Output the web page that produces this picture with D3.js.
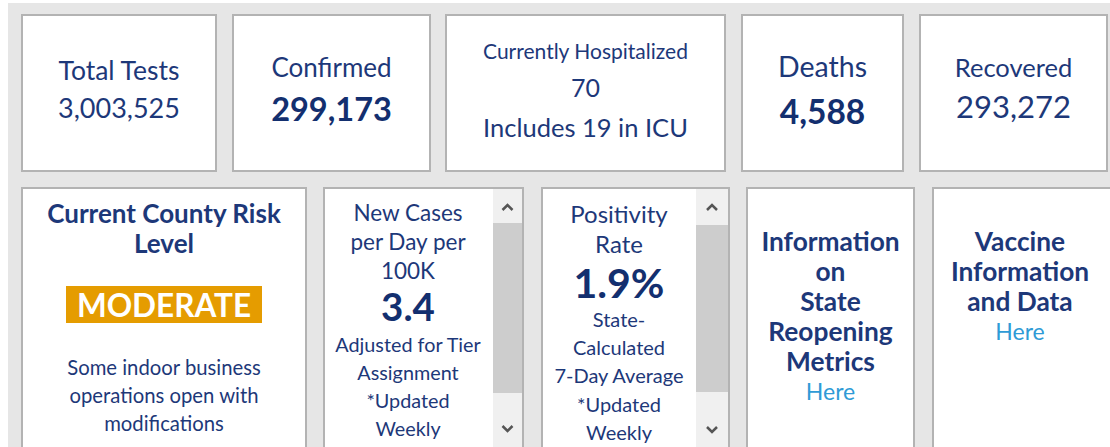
<!DOCTYPE html>
<html><head><meta charset="utf-8">
<script src="https://cdn.jsdelivr.net/npm/d3@7"></script>
<style>
html,body{margin:0;padding:0;background:#fff;}
svg{display:block;font-family:Lato,"Noto Sans",sans-serif;}
</style></head>
<body>
<svg id="c" width="1110" height="447"></svg>
<script>
// ---- data ----
const topTitles = ["Total Tests", "Confirmed", "Currently Hospitalized", "Deaths", "Recovered"];
const topValues = [3003525, 299173, 70, 4588, 293272];
const icuCount = 19;
const riskTitle = ["Current County Risk", "Level"];
const riskLevel = "MODERATE";
const riskNote = ["Some indoor business", "operations open with", "modifications"];
const newCasesTitle = ["New Cases", "per Day per", "100K"];
const newCasesValue = 3.4;
const newCasesNote = ["Adjusted for Tier", "Assignment", "*Updated", "Weekly"];
const positivityTitle = ["Positivity", "Rate"];
const positivityValue = 1.9;
const positivityNote = ["State-", "Calculated", "7-Day Average", "*Updated", "Weekly"];
const reopeningText = ["Information", "on", "State", "Reopening", "Metrics"];
const vaccineText = ["Vaccine", "Information", "and Data"];
const linkText = "Here";

// ---- layout ----
const navy = "#1d3879", navyDark = "#132f6f", linkBlue = "#2f9bd6";
const svg = d3.select("#c");
svg.append("rect").attr("x", 8).attr("y", 3).attr("width", 1102).attr("height", 444).attr("fill", "#e6e6e6");

const topCards = [[22, 216], [233, 430], [446, 725], [742, 903], [920, 1107]];
const botCards = [[22, 306], [324, 523], [542, 729], [747, 914], [933, 1120]];
const topY = [15, 171], botY = [188, 460];

function card(x0, x1, y0, y1) {
  svg.append("rect").attr("x", x0).attr("y", y0).attr("width", x1 - x0).attr("height", y1 - y0)
    .attr("fill", "#fff").attr("stroke", "#b3b3b3").attr("stroke-width", 2);
}
topCards.forEach(c => card(c[0], c[1], topY[0], topY[1]));
botCards.forEach(c => card(c[0], c[1], botY[0], botY[1]));

function txt(x, y, s, size, weight, color) {
  return svg.append("text").attr("x", x).attr("y", y).attr("text-anchor", "middle")
    .attr("dominant-baseline", "central").attr("font-size", size).attr("font-weight", weight || 400)
    .attr("fill", color || navy).text(s);
}
const fmt = d3.format(",");
const cx = c => (c[0] + c[1]) / 2;

// top row
txt(cx(topCards[0]), 70, topTitles[0], 26.5);
txt(cx(topCards[0]), 107, fmt(topValues[0]), 27);
txt(cx(topCards[1]), 67, topTitles[1], 26);
txt(cx(topCards[1]), 108, fmt(topValues[1]), 32.5, 700, navyDark);
txt(cx(topCards[2]), 50, topTitles[2], 21);
txt(cx(topCards[2]), 87, fmt(topValues[2]), 25);
txt(cx(topCards[2]), 127, `Includes ${icuCount} in ICU`, 25.5);
txt(cx(topCards[3]), 66, topTitles[3], 28.5);
txt(cx(topCards[3]), 111, fmt(topValues[3]), 33.5, 700, navyDark);
txt(cx(topCards[4]), 67, topTitles[4], 25.5);
txt(cx(topCards[4]), 106, fmt(topValues[4]), 31);

// bottom card 1: risk
const r1 = cx(botCards[0]);
riskTitle.forEach((s, i) => txt(r1, 213 + i * 30, s, 26, 700));
svg.append("rect").attr("x", 66).attr("y", 286).attr("width", 196).attr("height", 37).attr("fill", "#e59c00");
txt(r1, 305, riskLevel, 31.5, 700, "#fff");
riskNote.forEach((s, i) => txt(r1, 367 + i * 28, s, 20.3));

// scrollbars
function scrollbar(x0, x1, thumbY0, thumbY1, upY, downY) {
  svg.append("rect").attr("x", x0).attr("y", botY[0] + 1).attr("width", x1 - x0).attr("height", 447 - botY[0])
    .attr("fill", "#f0f0f0");
  svg.append("rect").attr("x", x0).attr("y", thumbY0).attr("width", x1 - x0).attr("height", thumbY1 - thumbY0)
    .attr("fill", "#cdcdcd");
  const m = (x0 + x1) / 2;
  svg.append("path").attr("d", `M${m - 5},${upY + 3}L${m},${upY - 2}L${m + 5},${upY + 3}`)
    .attr("fill", "none").attr("stroke", "#555").attr("stroke-width", 2.5);
  svg.append("path").attr("d", `M${m - 5},${downY - 3}L${m},${downY + 2}L${m + 5},${downY - 3}`)
    .attr("fill", "none").attr("stroke", "#555").attr("stroke-width", 2.5);
}

// bottom card 2: new cases
const c2 = 408;
scrollbar(493, 522, 223, 393, 207, 429);
newCasesTitle.forEach((s, i) => txt(c2, 212 + i * 29, s, 22.5));
txt(c2, 306, d3.format(".1f")(newCasesValue), 38.5, 700, navyDark);
newCasesNote.forEach((s, i) => txt(c2, 344 + i * 28, s, 19.8));

// bottom card 3: positivity
const c3 = 619;
scrollbar(696, 728, 225, 392, 207, 430);
positivityTitle.forEach((s, i) => txt(c3, 213 + i * 30, s, 24));
txt(c3, 282, d3.format(".1f")(positivityValue) + "%", 41, 700, navyDark);
positivityNote.forEach((s, i) => txt(c3, 319 + i * 28.2, s, 20));

// bottom card 4: reopening
const c4 = cx(botCards[3]);
reopeningText.forEach((s, i) => txt(c4, 241 + i * 30, s, 26.3, 700));
txt(c4, 391, linkText, 23, 400, linkBlue);

// bottom card 5: vaccine
const c5 = 1020;
vaccineText.forEach((s, i) => txt(c5, 241 + i * 30, s, 26.3, 700));
txt(c5, 331, linkText, 23, 400, linkBlue);
</script>
</body></html>
